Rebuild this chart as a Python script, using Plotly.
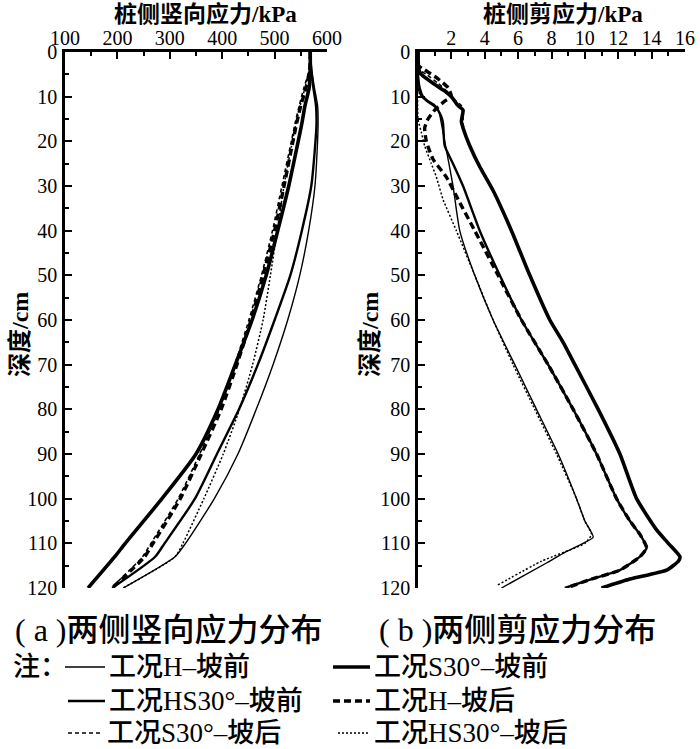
import plotly.graph_objects as go

# ---------------- data ----------------
# (a) vertical stress (kPa) vs depth (cm)
depth_v = [0, 4, 8, 12, 16, 20, 30, 40, 50, 60, 70, 80, 90, 100, 110, 113, 120]
v_H_front = [568, 571, 576, 582, 583, 582, 577, 565, 548, 525, 497, 465, 430, 385, 330, 310, 211]
v_S30_front = [568, 568, 566, 558, 552, 545, 527, 506, 484, 457, 425, 392, 350, 285, 215, 195, 144]
v_HS30_front = [568, 570, 574, 579, 580, 578, 570, 552, 530, 500, 468, 432, 390, 348, 290, 272, 190]
v_H_back = [568, 567, 560, 550, 542, 535, 518, 500, 478, 455, 428, 398, 360, 320, 268, 252, 190]
v_S30_back = [568, 566, 556, 547, 539, 532, 514, 496, 475, 451, 424, 394, 357, 316, 264, 248, 188]
v_HS30_back = [568, 566, 558, 549, 541, 534, 518, 505, 492, 478, 458, 433, 402, 365, 325, 310, 211]

# (b) shear stress (kPa) vs depth (cm)
d_H_front = [0, 8, 10, 11, 12, 13, 14, 16, 20, 30, 40, 50, 60, 70, 80, 90, 100, 105, 108.6, 110, 112, 114.4, 120]
s_H_front = [0, 0, 0.2, 0.5, 0.9, 1.2, 1.3, 1.4, 1.6, 2.1, 2.5, 3.4, 4.5, 5.8, 7.1, 8.4, 9.5, 10.0, 10.5, 9.9, 8.8, 7.7, 5.0]
d_S30_front = [0, 4, 5, 7, 9, 10, 12, 13, 15.5, 17, 21, 25.7, 31, 40, 50, 60, 65, 70, 80, 90, 100, 107, 110, 113, 114, 116, 118, 120]
s_S30_front = [0, 0.05, 0.2, 0.9, 1.7, 2.0, 2.4, 2.7, 2.6, 2.7, 3.1, 3.7, 4.5, 5.6, 6.7, 7.9, 8.7, 9.4, 10.8, 12.1, 13.1, 14.3, 15.0, 15.7, 15.6, 14.9, 12.7, 11.0]
d_HS30_front = [0, 5, 8, 10, 11, 12, 13, 14.5, 16, 21, 25, 30, 40, 50, 60, 70, 80, 90, 100, 105, 108, 111, 113, 116, 118, 120]
s_HS30_front = [0, 0, 0.1, 0.3, 0.6, 1.0, 1.2, 1.4, 1.5, 1.6, 2.1, 2.7, 3.7, 4.9, 6.2, 7.8, 9.3, 10.7, 11.9, 12.7, 13.3, 13.7, 13.3, 12.1, 10.4, 8.8]
d_H_back = [0, 3, 4, 6, 8, 10, 11, 13, 15, 17, 20, 24, 28, 33, 40, 50, 60, 70, 80, 90, 100, 105, 108, 111, 113, 116, 118, 120]
s_H_back = [0, 0, 0.4, 1.2, 1.8, 2.0, 1.6, 1.0, 0.6, 0.4, 0.5, 0.9, 1.7, 2.4, 3.4, 4.8, 6.2, 7.8, 9.3, 10.7, 11.9, 12.7, 13.3, 13.7, 13.3, 12.1, 10.4, 8.9]
d_S30_back = [0, 4, 5, 7, 9, 10.5, 12, 14, 16, 18, 22, 26, 31, 40, 50, 60, 70, 80, 90, 100, 107, 110, 113, 114, 116, 118, 120]
s_S30_back = [0, 0.1, 0.5, 1.2, 1.8, 2.1, 2.6, 2.7, 2.7, 2.8, 3.2, 3.8, 4.5, 5.6, 6.7, 7.9, 9.4, 10.8, 12.1, 13.1, 14.3, 15.0, 15.7, 15.6, 14.9, 12.7, 11.0]
d_HS30_back = [0, 15, 18, 21, 25, 28, 33, 40, 50, 60, 70, 80, 90, 100, 105, 108, 110, 114, 119.5]
s_HS30_back = [0, 0.0, 0.2, 0.4, 0.8, 1.1, 1.5, 2.3, 3.4, 4.5, 5.7, 7.0, 8.3, 9.5, 10.0, 10.4, 10.0, 7.4, 4.7]

legend_names = ["工况H–坡前", "工况S30°–坡前", "工况HS30°–坡前",
                "工况H–坡后", "工况S30°–坡后", "工况HS30°–坡后"]

x_ticks_a = [100, 200, 300, 400, 500, 600]
x_ticks_b = [2, 4, 6, 8, 10, 12, 14, 16]
y_ticks = [0, 10, 20, 30, 40, 50, 60, 70, 80, 90, 100, 110, 120]

# ---------------- styles ----------------
W, H = 700, 749
FONT = "Liberation Serif, 'Noto Sans CJK SC', serif"
styles = [
    dict(color="black", width=1.4, dash="solid"),     # H front
    dict(color="black", width=3.6, dash="solid"),     # S30 front
    dict(color="black", width=2.4, dash="solid"),     # HS30 front
    dict(color="black", width=3.4, dash="7px,4px"),   # H back
    dict(color="black", width=1.6, dash="4px,3px"),   # S30 back
    dict(color="black", width=1.5, dash="2px,2px"),   # HS30 back
]

def px_x(x):
    return x / W

def px_y(y):
    return 1 - y / H

fig = go.Figure()

left_series = [v_H_front, v_S30_front, v_HS30_front, v_H_back, v_S30_back, v_HS30_back]
order = [4, 5, 3, 2, 0, 1]
for i in order:
    fig.add_trace(go.Scatter(x=left_series[i], y=depth_v, mode="lines",
                             line=dict(shape="spline", smoothing=0.6, **styles[i]),
                             xaxis="x", yaxis="y", showlegend=False, name=legend_names[i]))

right_series = [(d_H_front, s_H_front), (d_S30_front, s_S30_front), (d_HS30_front, s_HS30_front),
                (d_H_back, s_H_back), (d_S30_back, s_S30_back), (d_HS30_back, s_HS30_back)]
for i in order:
    d, s = right_series[i]
    fig.add_trace(go.Scatter(x=s, y=d, mode="lines",
                             line=dict(shape="spline", smoothing=0.5, **styles[i]),
                             xaxis="x2", yaxis="y2", showlegend=False, name=legend_names[i]))

y_dom = [px_y(588), px_y(52)]
common_axis = dict(showline=True, linecolor="black", linewidth=2.5, showgrid=False,
                   zeroline=False, ticks="inside", ticklen=7, tickwidth=2, tickcolor="black",
                   automargin=False,
                   tickfont=dict(family=FONT, size=20, color="black"))
minor_tick = dict(ticks="inside", ticklen=4, tickwidth=2, tickcolor="black")

fig.update_layout(
    width=W, height=H, margin=dict(l=0, r=0, t=0, b=0, autoexpand=False),
    paper_bgcolor="white", plot_bgcolor="white", showlegend=False,
    font=dict(family=FONT, color="black"),
    xaxis=dict(domain=[px_x(65), px_x(327)], range=[100, 600], side="top", anchor="y",
               tickvals=x_ticks_a, ticktext=[str(v) for v in x_ticks_a], ticklabelstandoff=-4,
               minor=dict(dtick=50, tick0=0, **minor_tick), **common_axis),
    yaxis=dict(domain=y_dom, range=[120, 0], anchor="x",
               tickvals=y_ticks, ticktext=[str(v) for v in y_ticks], ticklabelstandoff=1,
               minor=dict(dtick=5, tick0=0, **minor_tick), **common_axis),
    xaxis2=dict(domain=[px_x(418), px_x(685)], range=[0, 16], side="top", anchor="y2",
                tickvals=x_ticks_b, ticktext=[str(v) for v in x_ticks_b], ticklabelstandoff=-4,
                minor=dict(dtick=1, tick0=0, **minor_tick), **common_axis),
    yaxis2=dict(domain=y_dom, range=[120, 0], anchor="x2",
                tickvals=y_ticks, ticktext=[str(v) for v in y_ticks], ticklabelstandoff=1,
                minor=dict(dtick=5, tick0=0, **minor_tick), **common_axis),
)

ann = []
def text(x, y, s, size, xanchor="center", angle=0, weight="normal"):
    ann.append(dict(x=px_x(x), y=px_y(y), xref="paper", yref="paper", text=s, showarrow=False,
                    xanchor=xanchor, yanchor="middle", textangle=angle, borderpad=0,
                    font=dict(family=FONT, size=size, color="black", weight=weight)))

text(205, 14, "<b>桩侧竖向应力/kPa</b>", 23)
text(563, 14, "<b>桩侧剪应力/kPa</b>", 23)
text(20, 335, "<b>深度/cm</b>", 24, angle=-90)
text(370, 335, "<b>深度/cm</b>", 24, angle=-90)
text(14, 630, "( a )两侧竖向应力分布", 32, xanchor="left", weight=500)
text(378, 630, "( b )两侧剪应力分布", 32, xanchor="left", weight=500)

# legend
text(12, 667, "注：", 27, xanchor="left", weight=500)
rows = [667, 701, 733]
leg_pos = [(0, 0, 65, 105, 108), (1, 0, 333, 370, 373),
           (2, 1, 68, 105, 108), (3, 1, 333, 370, 373),
           (4, 2, 68, 100, 106), (5, 2, 338, 370, 373)]
shapes = []
for idx, r, x0, x1, tx in leg_pos:
    y = rows[r]
    shapes.append(dict(type="line", xref="paper", yref="paper",
                       x0=px_x(x0), x1=px_x(x1), y0=px_y(y), y1=px_y(y),
                       line=styles[idx]))
    text(tx, y, legend_names[idx], 27, xanchor="left", weight=500)

fig.update_layout(annotations=ann, shapes=shapes)
fig.write_html("out.html", config={"displayModeBar": False},
               post_script="document.body.style.margin='0';document.body.style.overflow='hidden';")
